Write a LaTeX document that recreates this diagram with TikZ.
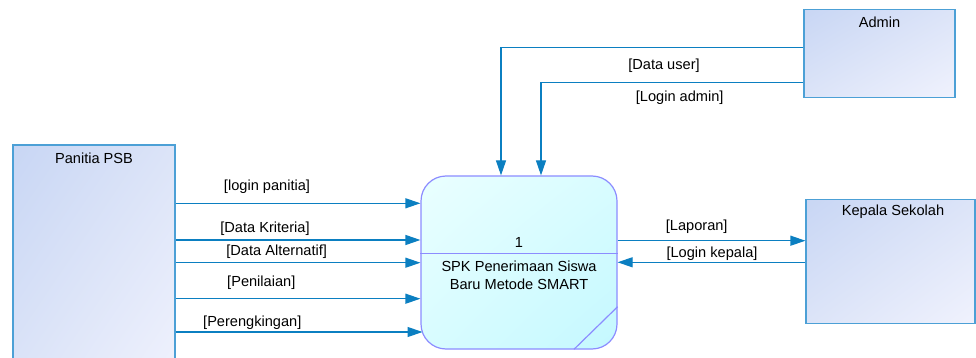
\documentclass[tikz,border=0pt]{standalone}
\usepackage{fontspec}
\setmainfont{Liberation Sans}
\usetikzlibrary{arrows.meta,shadings}
\definecolor{flowc}{HTML}{0B7FC1}
\definecolor{entb}{HTML}{4CA0D6}
\definecolor{entA}{HTML}{C8D6F4}
\definecolor{entB}{HTML}{F0F2FD}
\definecolor{entM}{HTML}{DCE4F8}
\definecolor{procb}{HTML}{8C8CFF}
\definecolor{procA}{HTML}{EAFFFF}
\definecolor{procB}{HTML}{C4F8FF}
\definecolor{procM}{HTML}{D8FCFF}
\tikzset{
  entity/.style={draw=entb, line width=1.2pt, rectangle, inner sep=0pt,
    upper left=entA, lower right=entB, upper right=entM, lower left=entM},
  process/.style={draw=procb, line width=1.2pt, rectangle, rounded corners=25pt, inner sep=0pt,
    upper left=procA, lower right=procB, upper right=procM, lower left=procM},
  flow/.style={draw=flowc, line width=1.2pt, -{Triangle[length=15pt,width=10pt]}},
  lbl/.style={font=\fontsize{14.6}{17.5}\selectfont, inner sep=0pt, anchor=center},
}
\begin{document}
\begin{tikzpicture}[x=1pt,y=-1pt]
\useasboundingbox (0,0) rectangle (976,358);
\clip (0,0) rectangle (976,358);
% entities
\node[entity, minimum width=162pt, minimum height=240pt] (pan) at (94,265) {};
\node[lbl] (panl) at (94,158) {Panitia PSB};
\node[entity, minimum width=151pt, minimum height=88pt] (adm) at (879.5,53.3) {};
\node[lbl] (adml) at (879.5,22) {Admin};
\node[entity, minimum width=169pt, minimum height=124pt] (kep) at (890.5,261.3) {};
\node[lbl] (kepl) at (893,212) {Kepala Sekolah};
% process
\node[process, minimum width=196pt, minimum height=173pt] (proc) at (519,262.5) {};
\draw[procb, line width=1.2pt] (proc.west |- 0,253.7) coordinate (dl) -- (proc.east |- 0,253.7) coordinate (dr);
\draw[procb, line width=1.2pt] (proc.east |- 0,306.7) coordinate (c1) -- (574,349.3) coordinate (c2);
\node[lbl] (pnum) at (519,242.7) {1};
\node[lbl, align=center] (pname) at (519,275.5) {SPK Penerimaan Siswa\\ Baru Metode SMART};
% flows from Panitia
\coordinate (y1) at (0,203.3);
\coordinate (y2) at (0,240);
\coordinate (y3) at (0,262.7);
\coordinate (y4) at (0,298.7);
\coordinate (y5) at (0,332);
\draw[flow] (pan.east |- y1) -- (proc.west |- y1);
\draw[flow] (pan.east |- y2) -- (proc.west |- y2);
\draw[flow] (pan.east |- y3) -- (proc.west |- y3);
\draw[flow] (pan.east |- y4) -- (proc.west |- y4);
\draw[flow] (pan.east |- y5) -- (422.5,332);
\node[lbl] (l1) at (267,186.7) {[login panitia]};
\node[lbl] (l2) at (265,228.3) {[Data Kriteria]};
\node[lbl] (l3) at (276.7,252.2) {[Data Alternatif]};
\node[lbl] (l4) at (261.3,282.7) {[Penilaian]};
\node[lbl] (l5) at (252.3,322.5) {[Perengkingan]};
% flows from Admin
\coordinate (a1) at (501,47.7);
\coordinate (a2) at (541,82.3);
\draw[flow] (adm.west |- a1) -- (a1) -- (a1 |- proc.north);
\draw[flow] (adm.west |- a2) -- (a2) -- (a2 |- proc.north);
\node[lbl] (la1) at (664,65.7) {[Data user]};
\node[lbl] (la2) at (679.7,97.3) {[Login admin]};
% flows with Kepala Sekolah
\coordinate (k1) at (0,240.7);
\coordinate (k2) at (0,262.3);
\draw[flow] (proc.east |- k1) -- (kep.west |- k1);
\draw[flow] (kep.west |- k2) -- (proc.east |- k2);
\node[lbl] (lk1) at (696.7,226.7) {[Laporan]};
\node[lbl] (lk2) at (712,253.3) {[Login kepala]};
\end{tikzpicture}
\end{document}
